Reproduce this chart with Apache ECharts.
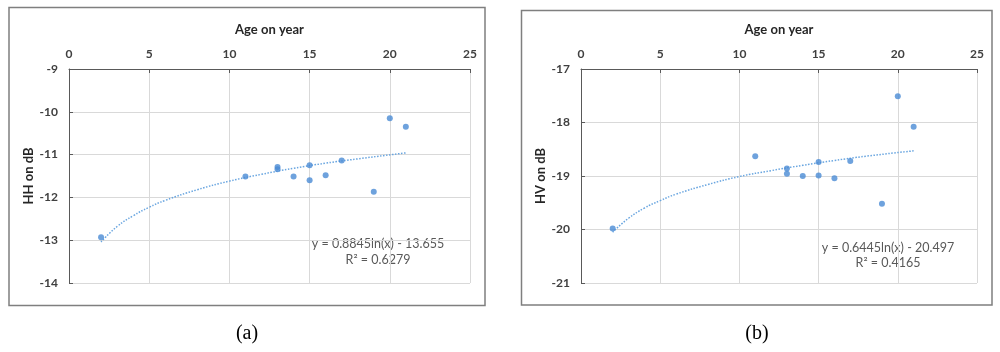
<!DOCTYPE html>
<html>
<head>
<meta charset="utf-8">
<script src="https://cdn.jsdelivr.net/npm/echarts@6/dist/echarts.min.js"></script>
<style>
  html, body { margin: 0; padding: 0; background: #fff; }
  #chart { width: 1000px; height: 352px; }
</style>
</head>
<body>
<div id="chart"></div>
<script>
// ages of the samples (same for both panels)
var ages = [2, 11, 13, 13, 14, 15, 15, 16, 17, 19, 20, 21];
// backscatter
var hhValues = [-12.93, -11.51, -11.29, -11.34, -11.51, -11.25, -11.6, -11.48, -11.14, -11.87, -10.15, -10.35];
var hvValues = [-19.98, -18.63, -18.86, -18.96, -19.0, -18.74, -18.99, -19.04, -18.72, -19.52, -17.51, -18.08];
// log trend lines
var trendAges = [2, 3, 4, 5, 6, 8, 10, 12, 14, 16, 18, 21];
var hhTrend = [-13.04, -12.68, -12.43, -12.23, -12.07, -11.82, -11.62, -11.46, -11.32, -11.2, -11.1, -10.96];
var hvTrend = [-20.05, -19.79, -19.6, -19.46, -19.34, -19.16, -19.01, -18.9, -18.8, -18.71, -18.63, -18.53];
var xTicks = [0, 25, 5];       // min, max, interval
var hhTicks = [-14, -9, 1];
var hvTicks = [-21, -17, 1];

function pairs(xs, ys) {
	return xs.map(function (x, i) { return [x, ys[i]]; });
}

var font = 'Lato, "Liberation Sans", sans-serif';
var dotColor = '#4a8bd4';

function xAxisFor(idx) {
	return {
		gridIndex: idx,
		type: 'value',
		position: 'top',
		min: xTicks[0], max: xTicks[1], interval: xTicks[2],
		name: 'Age on year',
		nameLocation: 'middle',
		nameGap: 33,
		nameTextStyle: { fontFamily: font, fontWeight: 'bold', fontSize: 13, color: '#262626' },
		axisLine: { show: true, lineStyle: { color: '#595959', width: 1 } },
		axisTick: { show: true, inside: true, length: 4, lineStyle: { color: '#595959' } },
		axisLabel: { margin: 9, fontFamily: font, fontWeight: 'bold', fontSize: 12, color: '#404040' },
		splitLine: { show: true, lineStyle: { color: '#d9d9d9', width: 1 } }
	};
}

function yAxisFor(idx, ticks, name) {
	return {
		gridIndex: idx,
		type: 'value',
		min: ticks[0], max: ticks[1], interval: ticks[2],
		name: name,
		nameLocation: 'middle',
		nameRotate: 90,
		nameGap: 33,
		nameTextStyle: { fontFamily: font, fontWeight: 'bold', fontSize: 13, color: '#262626' },
		axisLine: { show: true, lineStyle: { color: '#595959', width: 1 } },
		axisTick: { show: true, inside: true, length: 4, lineStyle: { color: '#595959' } },
		axisLabel: { margin: 11, fontFamily: font, fontWeight: 'bold', fontSize: 12, color: '#404040' },
		splitLine: { show: true, lineStyle: { color: '#d9d9d9', width: 1 } }
	};
}

function dots(idx, data) {
	return {
		type: 'scatter', xAxisIndex: idx, yAxisIndex: idx,
		data: data, symbol: 'circle', symbolSize: 6,
		itemStyle: { color: dotColor }, z: 3
	};
}

function trend(idx, data) {
	return {
		type: 'line', xAxisIndex: idx, yAxisIndex: idx,
		data: data, smooth: true, showSymbol: false,
		lineStyle: { color: '#6aa6e0', width: 1.5, type: 'dotted' }, z: 2
	};
}

var chart = echarts.init(document.getElementById('chart'), null, { renderer: 'canvas' });
var option = {
	animation: false,
	grid: [
		{ left: 69, top: 69, width: 401, height: 214 },
		{ left: 581, top: 69, width: 396, height: 214 }
	],
	xAxis: [xAxisFor(0), xAxisFor(1)],
	yAxis: [yAxisFor(0, hhTicks, 'HH on dB'), yAxisFor(1, hvTicks, 'HV on dB')],
	series: [
		trend(0, pairs(trendAges, hhTrend)),
		dots(0, pairs(ages, hhValues)),
		trend(1, pairs(trendAges, hvTrend)),
		dots(1, pairs(ages, hvValues))
	],
	graphic: [
		{ type: 'rect', shape: { x: 9, y: 7.5, width: 476, height: 298 }, style: { fill: 'none', stroke: '#7f7f7f', lineWidth: 1.5 }, z: -1 },
		{ type: 'rect', shape: { x: 521.5, y: 10.5, width: 470.5, height: 294.5 }, style: { fill: 'none', stroke: '#7f7f7f', lineWidth: 1.5 }, z: -1 },
		{ type: 'text', x: 378, y: 244, style: { text: 'y = 0.8845ln(x) - 13.655', font: '12.5px ' + font, fill: '#595959', align: 'center', verticalAlign: 'middle' } },
		{ type: 'text', x: 378, y: 260, style: { text: 'R² = 0.6279', font: '12.5px ' + font, fill: '#595959', align: 'center', verticalAlign: 'middle' } },
		{ type: 'text', x: 888, y: 248, style: { text: 'y = 0.6445ln(x) - 20.497', font: '12.5px ' + font, fill: '#595959', align: 'center', verticalAlign: 'middle' } },
		{ type: 'text', x: 888, y: 263, style: { text: 'R² = 0.4165', font: '12.5px ' + font, fill: '#595959', align: 'center', verticalAlign: 'middle' } },
		{ type: 'text', x: 247, y: 334, style: { text: '(a)', font: '20px "Liberation Serif", serif', fill: '#000', align: 'center', verticalAlign: 'middle' } },
		{ type: 'text', x: 757, y: 334, style: { text: '(b)', font: '20px "Liberation Serif", serif', fill: '#000', align: 'center', verticalAlign: 'middle' } }
	]
};
chart.setOption(option);
</script>
</body>
</html>
